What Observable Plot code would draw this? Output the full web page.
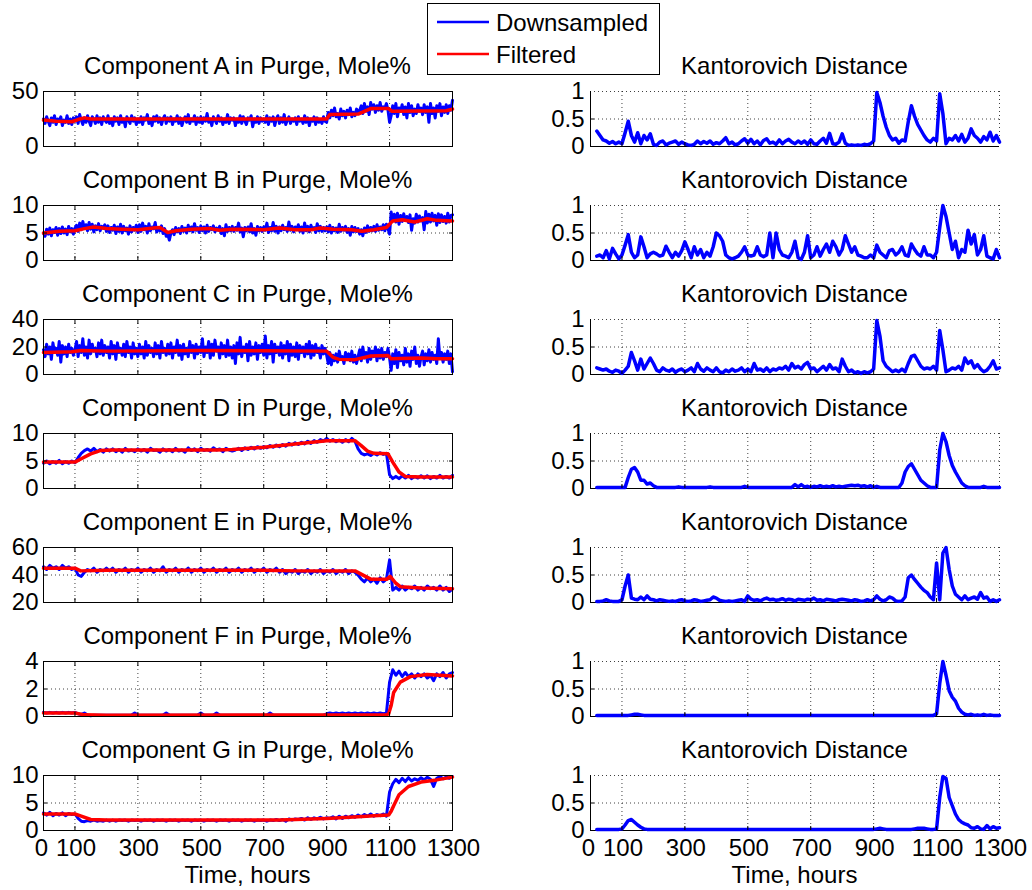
<!DOCTYPE html>
<html>
<head>
<meta charset="utf-8">
<script src="https://cdn.jsdelivr.net/npm/d3@7"></script>
<script src="https://cdn.jsdelivr.net/npm/@observablehq/plot@0.6"></script>
<style>
  html, body { margin: 0; padding: 0; background: #fff; }
  #wrap { position: relative; width: 1032px; height: 890px; overflow: hidden; background: #fff;
          font-family: "Liberation Sans", Arial, Helvetica, sans-serif; }
  .ttl { position: absolute; font-size: 24px; line-height: 18px; white-space: nowrap; color: #000;
         transform: translateX(-50%); }
</style>
</head>
<body>
<div id="wrap"></div>
<script>
// ---------------- DATA ----------------
const componentNames = ["A", "B", "C", "D", "E", "F", "G"];
const seriesNames = ["Downsampled", "Filtered"];
const compDomains = [[0, 50], [0, 10], [0, 40], [0, 10], [20, 60], [0, 4], [0, 10]];
const compTicks = [[0, 50], [0, 5, 10], [0, 20, 40], [0, 5, 10], [20, 40, 60], [0, 2, 4], [0, 5, 10]];
const kDomain = [0, 1];
const kTicks = [0, 0.5, 1];
const xTickLabels = [0, 100, 300, 500, 700, 900, 1100, 1300];
const xGridHours = [100, 300, 500, 700, 900, 1100];
const kGridHours = [100, 300, 500, 700, 900, 1100, 1300];

// 5-hour sampling (components A, B, C)
const hours5 = [0,
 5,10,15,20,25,30,35,40,45,50,55,60,65,70,75,80,85,90,95,100,
 105,110,115,120,125,130,135,140,145,150,155,160,165,170,175,180,185,190,195,200,
 205,210,215,220,225,230,235,240,245,250,255,260,265,270,275,280,285,290,295,300,
 305,310,315,320,325,330,335,340,345,350,355,360,365,370,375,380,385,390,395,400,
 405,410,415,420,425,430,435,440,445,450,455,460,465,470,475,480,485,490,495,500,
 505,510,515,520,525,530,535,540,545,550,555,560,565,570,575,580,585,590,595,600,
 605,610,615,620,625,630,635,640,645,650,655,660,665,670,675,680,685,690,695,700,
 705,710,715,720,725,730,735,740,745,750,755,760,765,770,775,780,785,790,795,800,
 805,810,815,820,825,830,835,840,845,850,855,860,865,870,875,880,885,890,895,900,
 905,910,915,920,925,930,935,940,945,950,955,960,965,970,975,980,985,990,995,1000,
 1005,1010,1015,1020,1025,1030,1035,1040,1045,1050,1055,1060,1065,1070,1075,1080,1085,1090,1095,1100,
 1105,1110,1115,1120,1125,1130,1135,1140,1145,1150,1155,1160,1165,1170,1175,1180,1185,1190,1195,1200,
 1205,1210,1215,1220,1225,1230,1235,1240,1245,1250,1255,1260,1265,1270,1275,1280,1285,1290,1295,1300];

// 10-hour sampling (components D, E, F, G)
const hours = [0,10,20,30,40,50,60,70,80,90,100,
 110,120,130,140,150,160,170,180,190,200,
 210,220,230,240,250,260,270,280,290,300,
 310,320,330,340,350,360,370,380,390,400,
 410,420,430,440,450,460,470,480,490,500,
 510,520,530,540,550,560,570,580,590,600,
 610,620,630,640,650,660,670,680,690,700,
 710,720,730,740,750,760,770,780,790,800,
 810,820,830,840,850,860,870,880,890,900,
 910,920,930,940,950,960,970,980,990,1000,
 1010,1020,1030,1040,1050,1060,1070,1080,1090,1100,
 1110,1120,1130,1140,1150,1160,1170,1180,1190,1200,
 1210,1220,1230,1240,1250,1260,1270,1280,1290,1300];

const kHours = [20,30,40,50,60,70,80,90,100,
 110,120,130,140,150,160,170,180,190,200,
 210,220,230,240,250,260,270,280,290,300,
 310,320,330,340,350,360,370,380,390,400,
 410,420,430,440,450,460,470,480,490,500,
 510,520,530,540,550,560,570,580,590,600,
 610,620,630,640,650,660,670,680,690,700,
 710,720,730,740,750,760,770,780,790,800,
 810,820,830,840,850,860,870,880,890,900,
 910,920,930,940,950,960,970,980,990,1000,
 1010,1020,1030,1040,1050,1060,1070,1080,1090,1100,
 1110,1120,1130,1140,1150,1160,1170,1180,1190,1200,
 1210,1220,1230,1240,1250,1260,1270,1280,1290,1300];

// Downsampled (blue) series
const downA = [25,
 21,27,23,19,26,22,28,20,25,23,27,19,24,22,28,21,25,20,26,23,
 27,21,29,24,20,26,22,28,23,19,27,25,21,28,22,26,20,27,24,22,
 28,21,25,19,27,23,26,20,28,22,25,18,27,24,21,28,23,26,20,25,
 22,27,20,26,24,29,21,25,19,27,23,28,22,26,20,25,28,21,26,23,
 27,20,25,23,28,21,26,19,24,27,22,29,21,25,23,28,20,26,22,27,
 21,26,23,30,22,25,19,27,24,21,28,23,26,20,25,22,29,21,26,24,
 26,19,25,22,28,21,27,23,20,26,24,28,18,25,22,27,21,26,23,25,
 22,28,20,26,23,27,19,25,28,21,26,22,29,20,24,27,21,25,23,26,
 20,27,23,25,21,28,22,26,19,25,23,27,20,26,22,24,21,27,23,22,
 31,26,33,28,35,27,30,25,34,28,32,26,33,29,35,27,31,28,34,30,
 33,37,30,39,32,36,29,40,34,38,31,37,33,40,32,36,35,39,33,22,
 28,37,30,39,27,35,32,38,29,36,26,39,31,37,28,34,30,38,32,35,
 29,38,31,36,22,39,30,35,26,37,32,39,28,36,31,38,30,37,33,42];
const downB = [5.0,
 4.4,5.7,4.8,5.9,4.5,5.6,5.1,6.0,4.6,5.8,4.9,6.1,5.0,5.7,4.7,6.2,5.2,5.8,4.8,5.9,
 6.4,5.3,6.8,5.6,7.1,5.8,6.5,5.4,6.9,5.7,6.6,5.2,6.3,5.6,6.7,5.4,6.2,5.9,6.5,5.3,
 6.3,5.1,6.0,5.5,6.4,4.9,6.1,5.3,6.6,5.0,6.2,5.4,5.9,4.8,6.3,5.2,6.0,5.5,6.4,5.1,
 6.5,5.3,6.8,5.6,6.2,5.0,6.7,5.4,6.1,5.8,6.9,5.2,6.0,5.4,6.3,4.9,5.8,4.4,4.8,3.7,
 5.0,5.6,4.7,6.0,5.2,5.8,4.9,6.2,5.3,5.9,5.0,6.4,5.4,6.1,5.2,6.7,5.5,6.0,5.1,6.3,
 5.4,6.1,5.0,6.4,5.3,6.0,5.6,6.3,5.2,5.9,5.5,6.2,4.9,5.8,4.5,6.5,5.3,6.0,5.4,6.2,
 5.3,6.0,5.5,6.8,5.2,5.9,4.3,6.0,5.4,6.1,5.2,6.7,5.0,5.8,4.6,6.2,5.4,6.0,5.3,6.1,
 5.5,6.8,5.1,6.0,5.4,6.9,5.3,6.2,5.0,6.1,5.4,6.4,5.6,6.0,5.3,7.0,5.5,6.2,5.2,6.1,
 5.6,6.5,5.3,6.1,5.0,6.8,5.4,6.2,5.2,6.4,5.6,6.0,5.1,6.7,5.4,6.2,5.3,6.0,5.4,6.1,
 5.2,6.4,5.0,6.0,5.4,5.9,5.1,6.6,5.3,6.0,5.5,6.2,5.1,5.8,4.6,6.2,5.2,6.0,5.3,5.8,
 4.8,5.6,4.5,5.9,5.1,6.3,5.3,6.0,5.4,6.2,5.3,6.5,5.5,6.1,5.6,6.5,5.4,6.6,5.8,4.8,
 8.8,7.2,8.4,7.0,8.6,6.6,8.2,7.1,8.5,7.3,8.0,6.9,8.3,5.5,7.6,6.8,8.4,7.0,8.1,7.2,
 7.8,5.6,8.9,6.8,8.4,7.0,8.6,7.2,8.2,6.4,8.5,6.9,8.3,7.1,8.0,6.8,8.6,7.0,8.2,8.3];
const downC = [18,
 13,22,15,20,11,23,16,19,14,24,9,21,15,20,13,22,16,19,14,18,
 24,13,21,16,26,14,20,12,25,15,22,17,19,13,23,15,25,14,21,16,
 20,12,24,15,21,11,23,16,19,14,22,13,24,16,20,12,23,15,19,13,
 22,15,20,12,24,14,21,16,19,13,23,15,21,12,24,16,19,14,22,15,
 23,12,20,16,25,14,21,11,22,15,19,13,24,16,21,12,22,15,20,16,
 26,13,20,16,24,12,22,14,25,17,20,12,23,15,21,13,25,14,20,12,
 21,8,23,15,27,13,20,16,22,10,24,14,20,15,23,11,21,16,22,14,
 28,12,21,15,24,9,22,16,20,14,23,12,21,15,24,10,22,14,20,13,
 23,11,21,16,20,13,22,15,24,12,21,14,22,16,19,12,21,15,19,14,
 8,16,7,14,10,15,9,17,11,13,8,16,12,15,10,17,9,14,8,13,
 18,10,20,12,16,9,19,11,17,13,20,10,18,12,19,11,16,13,19,12,
 3,15,8,18,5,16,10,14,7,19,9,15,6,17,11,20,8,14,6,13,
 17,7,15,10,18,9,16,11,14,8,26,12,16,9,15,11,17,8,15,2];
const downD = [4.6,5.0,4.5,4.9,4.6,5.1,4.5,4.9,4.6,5.0,4.7,
 5.6,6.4,6.9,7.2,6.8,7.3,6.7,7.1,6.6,7.2,
 6.8,7.2,6.7,7.1,6.6,7.3,6.8,7.0,6.7,7.2,
 6.8,7.1,6.6,7.3,6.9,7.0,6.6,7.2,6.8,7.1,
 6.7,7.3,6.8,7.0,6.6,7.4,6.9,7.2,6.7,7.3,
 6.9,7.1,6.8,7.4,7.0,7.2,6.7,7.3,7.0,6.8,
 7.0,7.3,6.9,7.4,7.1,7.5,7.2,7.6,7.3,7.6,
 7.4,7.8,7.5,7.9,7.6,8.0,7.7,8.2,7.9,8.3,
 8.0,8.4,8.1,8.6,8.2,8.7,8.4,8.9,8.6,9.1,
 8.6,8.9,8.5,8.8,8.4,8.9,8.5,9.1,8.6,7.2,
 6.4,6.1,6.3,6.0,6.4,6.1,6.5,6.2,6.4,2.5,
 1.8,2.2,1.8,2.3,1.9,2.4,1.8,2.2,1.9,2.3,
 1.9,2.3,1.8,2.2,1.9,2.4,1.9,2.2,1.9,2.4];
const downE = [46,44,47,45,46,44,47,45,46,44,45,
 40,39,42,44,43,45,42,44,43,45,
 43,45,42,44,43,45,42,44,43,45,
 42,44,43,45,42,44,43,46,42,44,
 43,45,42,44,43,45,42,44,43,45,
 42,44,43,45,42,44,43,45,42,44,
 43,45,42,44,43,45,42,44,43,45,
 42,44,43,45,42,44,41,43,42,44,
 41,43,42,44,41,43,42,44,41,43,
 42,44,41,43,42,44,41,43,42,40,
 37,35,38,35,37,34,38,35,37,51,
 29,31,29,32,29,31,30,32,29,31,
 29,32,30,31,29,32,29,31,28,30];
const downF = [0.3,0.25,0.3,0.25,0.3,0.25,0.3,0.25,0.3,0.25,0.3,
 0.2,0.15,0.25,0.1,0.05,0.1,0.1,0.1,0.1,0.1,
 0.1,0.1,0.1,0.1,0.1,0.1,0.1,0.1,0.25,0.1,
 0.1,0.1,0.1,0.1,0.1,0.1,0.1,0.1,0.25,0.1,
 0.1,0.1,0.1,0.1,0.1,0.1,0.1,0.1,0.1,0.25,
 0.1,0.1,0.1,0.1,0.25,0.1,0.1,0.1,0.1,0.1,
 0.1,0.1,0.1,0.1,0.1,0.1,0.1,0.1,0.1,0.1,
 0.1,0.25,0.1,0.1,0.1,0.1,0.1,0.1,0.1,0.1,
 0.1,0.1,0.1,0.1,0.1,0.1,0.1,0.1,0.1,0.2,
 0.25,0.2,0.25,0.2,0.25,0.2,0.25,0.2,0.25,0.2,
 0.25,0.2,0.25,0.2,0.25,0.2,0.25,0.2,0.25,2.5,
 3.4,3.0,3.3,2.9,3.2,2.9,3.1,2.8,3.1,2.9,
 3.1,2.8,3.0,2.6,3.1,2.9,3.2,2.8,3.1,3.2];
const downG = [3.2,2.8,3.3,2.7,3.1,2.8,3.2,2.7,3.1,2.9,3.0,
 2.2,1.7,1.6,1.8,1.7,1.9,1.7,1.8,1.7,1.9,
 1.7,1.9,1.7,1.9,1.8,1.9,1.7,1.9,1.8,1.9,
 1.7,1.9,1.8,1.9,1.7,1.9,1.8,1.9,1.7,1.9,
 1.8,1.9,1.7,1.9,1.8,1.9,1.7,1.9,1.8,1.9,
 1.7,1.9,1.8,1.9,1.7,1.9,1.8,1.9,1.7,1.9,
 1.8,1.9,1.7,1.9,1.8,1.9,1.7,1.9,1.8,1.9,
 1.7,1.9,1.8,2.0,1.8,2.0,1.7,2.1,1.9,2.1,
 2.0,2.2,1.9,2.3,2.0,2.3,2.1,2.4,2.1,2.3,
 2.2,2.5,2.1,2.6,2.2,2.6,2.3,2.7,2.4,2.8,
 2.5,2.9,2.6,3.0,2.6,2.9,2.7,3.0,2.6,7.0,
 8.5,9.3,8.7,9.5,8.9,9.6,9.0,9.4,9.1,9.6,
 9.2,9.7,9.3,8.0,9.5,9.8,9.4,9.7,9.5,9.8];

// Filtered (red) series as [hour, value] pairs
const filtA = [[0,24],[40,23],[90,22.5],[110,24.5],[130,26],[150,25],[900,25],[910,29],[1000,29.5],[1040,34.5],[1097,34.5],[1108,32],[1280,32.5],[1300,34]];
const filtB = [[0,5.0],[50,5.3],[100,5.4],[130,5.8],[160,6.1],[200,5.8],[250,5.7],[300,5.6],[350,5.9],[370,6.0],[395,5.1],[420,5.4],[470,5.7],[530,5.8],[560,5.5],[600,5.7],[700,5.6],[750,5.9],[800,5.6],[850,5.6],[880,5.9],[920,5.7],[980,5.6],[1012,5.3],[1050,5.6],[1090,6.0],[1110,7.2],[1140,7.4],[1180,7.0],[1220,7.6],[1250,7.3],[1300,7.2]];
const filtC = [[0,16],[90,16.5],[120,17.5],[200,17],[500,17.5],[700,17.2],[900,17],[920,12.5],[940,11],[990,10.8],[1040,13.5],[1095,13.8],[1105,11.5],[1200,12],[1250,11.5],[1300,11.5]];
const filtD = [[0,4.8],[100,4.8],[120,5.4],[150,6.3],[180,6.9],[220,7.0],[550,7.0],[600,7.1],[700,7.5],[800,8.1],[900,8.7],[990,8.7],[1010,7.8],[1030,6.8],[1050,6.4],[1095,6.3],[1110,4.8],[1130,3.0],[1150,2.2],[1200,2.1],[1300,2.1]];
const filtE = [[0,45],[100,45],[118,43],[200,43.5],[700,43.5],[800,43],[990,43],[1040,37],[1092,37],[1102,39],[1120,34],[1134,31.5],[1200,30.5],[1300,30]];
const filtF = [[0,0.25],[100,0.25],[130,0.12],[200,0.1],[1090,0.12],[1097,0.2],[1105,0.8],[1113,1.75],[1134,2.5],[1166,2.9],[1219,3.05],[1260,3.0],[1300,2.95]];
const filtG = [[0,3.0],[100,3.0],[120,2.6],[150,2.0],[200,1.9],[750,1.9],[800,2.0],[900,2.2],[1000,2.5],[1050,2.7],[1097,2.8],[1105,3.5],[1113,4.5],[1130,6.5],[1160,8.0],[1200,8.8],[1250,9.2],[1300,9.7]];

// Kantorovich distance, one value per entry of kHours
const kA = [0.28,0.2,0.12,0.1,0.06,0.09,0.05,0.08,0.05,
 0.25,0.46,0.2,0.08,0.25,0.05,0.2,0.12,0.23,0.04,
 0.02,0.08,0.1,0.03,0.06,0.08,0.1,0.04,0.08,0.05,
 0.03,0.02,0.04,0.1,0.05,0.09,0.06,0.1,0.04,0.07,
 0.05,0.1,0.16,0.05,0.08,0.03,0.05,0.1,0.14,0.06,
 0.13,0.05,0.1,0.03,0.11,0.14,0.06,0.08,0.04,0.12,
 0.05,0.1,0.13,0.08,0.05,0.1,0.06,0.1,0.04,0.12,
 0.05,0.04,0.1,0.15,0.06,0.24,0.05,0.04,0.08,0.23,
 0.06,0.02,0.03,0.02,0.03,0.02,0.04,0.03,0.05,0.1,
 0.98,0.8,0.55,0.35,0.2,0.12,0.15,0.06,0.12,0.1,
 0.45,0.74,0.55,0.4,0.3,0.2,0.12,0.08,0.15,0.1,
 0.96,0.6,0.05,0.15,0.12,0.2,0.1,0.22,0.08,0.15,
 0.32,0.2,0.15,0.08,0.18,0.12,0.26,0.1,0.2,0.08];
const kB = [0.08,0.1,0.05,0.18,0.03,0.22,0.12,0.03,0.1,
 0.28,0.47,0.15,0.05,0.1,0.43,0.25,0.05,0.12,0.15,
 0.12,0.08,0.1,0.26,0.15,0.05,0.15,0.08,0.18,0.34,
 0.2,0.05,0.25,0.1,0.2,0.05,0.15,0.08,0.25,0.5,
 0.45,0.35,0.1,0.05,0.03,0.05,0.08,0.15,0.25,0.1,
 0.08,0.1,0.25,0.1,0.07,0.1,0.5,0.05,0.5,0.2,
 0.1,0.08,0.05,0.15,0.35,0.05,0.02,0.15,0.45,0.05,
 0.1,0.25,0.08,0.2,0.3,0.15,0.35,0.25,0.1,0.2,
 0.45,0.3,0.15,0.25,0.1,0.08,0.05,0.05,0.1,0.05,
 0.28,0.15,0.1,0.05,0.18,0.2,0.1,0.15,0.25,0.1,
 0.08,0.3,0.2,0.12,0.08,0.25,0.1,0.1,0.05,0.15,
 0.6,1.0,0.8,0.5,0.2,0.35,0.05,0.2,0.15,0.55,
 0.3,0.47,0.1,0.2,0.45,0.08,0.05,0.03,0.2,0.05];
const kC = [0.12,0.1,0.08,0.1,0.06,0.04,0.08,0.06,0.02,
 0.08,0.15,0.4,0.25,0.08,0.28,0.1,0.2,0.3,0.2,
 0.08,0.05,0.12,0.08,0.06,0.1,0.04,0.08,0.1,0.05,
 0.08,0.12,0.05,0.2,0.1,0.06,0.12,0.08,0.05,0.12,
 0.05,0.03,0.08,0.05,0.1,0.06,0.08,0.12,0.05,0.1,
 0.05,0.2,0.08,0.1,0.06,0.12,0.05,0.1,0.08,0.12,
 0.1,0.15,0.08,0.2,0.12,0.15,0.1,0.18,0.22,0.1,
 0.12,0.05,0.1,0.15,0.08,0.18,0.1,0.12,0.05,0.28,
 0.15,0.05,0.08,0.03,0.05,0.02,0.05,0.03,0.05,0.1,
 0.98,0.7,0.25,0.15,0.1,0.05,0.08,0.05,0.1,0.05,
 0.2,0.33,0.35,0.25,0.15,0.1,0.12,0.1,0.15,0.08,
 0.8,0.45,0.05,0.08,0.12,0.1,0.15,0.08,0.3,0.2,
 0.25,0.12,0.18,0.1,0.05,0.08,0.15,0.25,0.1,0.12];
const kD = [0.02,0.02,0.02,0.02,0.02,0.02,0.02,0.02,0.02,
 0.02,0.2,0.35,0.38,0.3,0.15,0.15,0.08,0.1,0.05,
 0.02,0.02,0.02,0.02,0.02,0.02,0.02,0.03,0.02,0.02,
 0.02,0.02,0.02,0.02,0.02,0.02,0.02,0.03,0.02,0.02,
 0.02,0.02,0.02,0.02,0.02,0.02,0.02,0.02,0.04,0.02,
 0.02,0.02,0.02,0.02,0.02,0.02,0.02,0.02,0.02,0.02,
 0.02,0.02,0.02,0.02,0.07,0.03,0.07,0.03,0.04,0.02,
 0.04,0.03,0.05,0.03,0.04,0.03,0.05,0.03,0.04,0.03,
 0.04,0.05,0.06,0.05,0.06,0.04,0.05,0.03,0.05,0.02,
 0.04,0.02,0.02,0.02,0.02,0.02,0.02,0.02,0.1,0.3,
 0.4,0.45,0.35,0.25,0.15,0.1,0.05,0.02,0.02,0.02,
 0.7,1.0,0.85,0.6,0.42,0.3,0.2,0.1,0.05,0.02,
 0.02,0.02,0.02,0.02,0.04,0.02,0.02,0.02,0.02,0.02];
const kE = [0.02,0.02,0.03,0.05,0.03,0.02,0.02,0.02,0.05,
 0.3,0.5,0.08,0.06,0.05,0.1,0.05,0.12,0.06,0.05,
 0.03,0.05,0.04,0.03,0.02,0.03,0.02,0.04,0.05,0.03,
 0.02,0.03,0.05,0.04,0.02,0.03,0.04,0.05,0.1,0.08,
 0.04,0.03,0.02,0.03,0.02,0.03,0.04,0.05,0.02,0.12,
 0.06,0.04,0.05,0.03,0.06,0.08,0.05,0.06,0.04,0.05,
 0.07,0.04,0.06,0.05,0.03,0.06,0.05,0.04,0.06,0.05,
 0.08,0.04,0.05,0.03,0.06,0.05,0.04,0.03,0.05,0.06,
 0.05,0.04,0.03,0.05,0.04,0.02,0.03,0.05,0.03,0.05,
 0.12,0.06,0.03,0.05,0.1,0.08,0.03,0.02,0.03,0.1,
 0.45,0.5,0.42,0.35,0.28,0.22,0.18,0.1,0.05,0.72,
 0.05,0.9,1.0,0.6,0.3,0.15,0.1,0.05,0.12,0.05,
 0.08,0.1,0.06,0.18,0.08,0.1,0.02,0.05,0.02,0.05];
const kF = [0.02,0.02,0.02,0.02,0.02,0.02,0.02,0.02,0.02,
 0.02,0.02,0.03,0.04,0.04,0.03,0.02,0.02,0.02,0.02,
 0.02,0.02,0.02,0.02,0.02,0.02,0.02,0.02,0.02,0.02,
 0.02,0.02,0.02,0.02,0.02,0.02,0.02,0.02,0.02,0.02,
 0.02,0.02,0.02,0.02,0.02,0.02,0.02,0.02,0.02,0.02,
 0.02,0.02,0.02,0.02,0.02,0.02,0.02,0.02,0.02,0.02,
 0.02,0.02,0.02,0.02,0.02,0.02,0.02,0.02,0.02,0.02,
 0.02,0.02,0.02,0.02,0.02,0.02,0.02,0.02,0.02,0.02,
 0.02,0.02,0.02,0.02,0.02,0.02,0.02,0.02,0.02,0.02,
 0.02,0.02,0.02,0.02,0.02,0.02,0.02,0.02,0.02,0.02,
 0.02,0.02,0.02,0.02,0.02,0.02,0.02,0.02,0.02,0.05,
 0.6,1.0,0.75,0.47,0.35,0.28,0.15,0.08,0.04,0.03,
 0.04,0.02,0.03,0.02,0.04,0.02,0.03,0.02,0.02,0.02];
const kG = [0.02,0.02,0.02,0.02,0.02,0.02,0.02,0.02,0.03,
 0.1,0.18,0.2,0.15,0.1,0.06,0.03,0.02,0.02,0.02,
 0.02,0.02,0.02,0.02,0.02,0.02,0.02,0.02,0.02,0.02,
 0.02,0.02,0.02,0.02,0.02,0.02,0.02,0.02,0.02,0.02,
 0.02,0.02,0.02,0.02,0.02,0.02,0.02,0.02,0.02,0.02,
 0.02,0.02,0.02,0.02,0.02,0.02,0.02,0.02,0.02,0.02,
 0.02,0.02,0.02,0.02,0.02,0.02,0.02,0.02,0.02,0.02,
 0.02,0.02,0.02,0.02,0.02,0.02,0.02,0.02,0.02,0.02,
 0.02,0.02,0.02,0.02,0.02,0.02,0.02,0.02,0.02,0.02,
 0.03,0.04,0.03,0.02,0.02,0.02,0.02,0.02,0.02,0.02,
 0.02,0.02,0.03,0.04,0.04,0.04,0.03,0.02,0.02,0.03,
 0.6,0.98,0.95,0.6,0.45,0.3,0.2,0.15,0.12,0.1,
 0.05,0.04,0.07,0.03,0.02,0.09,0.03,0.07,0.04,0.05];

const downs = [downA, downB, downC, downD, downE, downF, downG];
const downHours = [hours5, hours5, hours5, hours, hours, hours, hours];
const filts = [filtA, filtB, filtC, filtD, filtE, filtF, filtG];
const kDists = [kA, kB, kC, kD, kE, kF, kG];

// sanity check of lengths
downs.forEach((a, i) => { if (a.length !== downHours[i].length) throw new Error("down" + componentNames[i] + " length " + a.length); });
kDists.forEach((a, i) => { if (a.length !== kHours.length) throw new Error("k" + componentNames[i] + " length " + a.length); });

// ---------------- LAYOUT / STYLE ----------------
const wrap = document.getElementById("wrap");
const FONT = '"Liberation Sans", Arial, Helvetica, sans-serif';
const BLUE = "#0000ff", RED = "#ff0000";
const LEFT_X = 43, RIGHT_X = 590, FW = 409, FH = 55, TOP0 = 91, PITCH = 114;
const dotted = {stroke: "#000", strokeOpacity: 0.75, strokeWidth: 1, strokeDasharray: "1,3"};
const fmt = d => String(d);
const blank = () => "";

function place(el, left, top) {
  el.style.position = "absolute";
  el.style.left = left + "px";
  el.style.top = top + "px";
  wrap.appendChild(el);
}
function addText(txt, cx, baseline) {
  const d = document.createElement("div");
  d.className = "ttl";
  d.textContent = txt;
  d.style.left = cx + "px";
  d.style.top = (baseline - 18.3) + "px";
  wrap.appendChild(d);
}
function bottomLabels() {
  return [
    Plot.axisX([0], {anchor: "bottom", tickSize: 0, tickPadding: 8, tickFormat: fmt, label: null, dx: -2}),
    Plot.axisX(xTickLabels.slice(1), {anchor: "bottom", tickSize: 0, tickPadding: 8, tickFormat: fmt, label: null, dx: 1})
  ];
}

function compPlot(i) {
  const last = i === 6;
  const mT = 14, mB = last ? 40 : 8, mL = LEFT_X, mR = 32;
  const ticks = compTicks[i];
  const inner = ticks.slice(1, -1);
  const svg = Plot.plot({
    width: mL + FW + mR, height: mT + FH + mB,
    marginTop: mT, marginBottom: mB, marginLeft: mL, marginRight: mR,
    style: {fontSize: "24px", fontFamily: FONT, background: "transparent", color: "#000", overflow: "visible"},
    x: {domain: [0, 1300]},
    y: {domain: compDomains[i]},
    marks: [
      Plot.gridX(xGridHours, dotted),
      Plot.gridY(inner, dotted),
      Plot.line(downs[i], {x: downHours[i], y: d => d, stroke: BLUE, strokeWidth: 3, strokeLinejoin: "round"}),
      Plot.line(filts[i], {x: d => d[0], y: d => d[1], stroke: RED, strokeWidth: 3.5, strokeLinejoin: "round"}),
      Plot.frame({stroke: "#000", strokeWidth: 1}),
      Plot.axisX(xGridHours, {anchor: "bottom", tickSize: -4, tickFormat: blank, label: null}),
      Plot.axisX(xGridHours, {anchor: "top", tickSize: -4, tickFormat: blank, label: null}),
      Plot.axisY(inner, {anchor: "right", tickSize: -4, tickFormat: blank, label: null}),
      Plot.axisY(ticks, {anchor: "left", tickSize: 0, tickPadding: 5, tickFormat: fmt, label: null}),
      Plot.axisY(inner, {anchor: "left", tickSize: -4, tickFormat: blank, label: null}),
      ...(last ? bottomLabels() : [])
    ]
  });
  place(svg, 0, TOP0 + i * PITCH - mT);
}

function kPlot(i) {
  const last = i === 6;
  const mT = 14, mB = last ? 40 : 8, mL = 60, mR = 32;
  const svg = Plot.plot({
    width: mL + FW + mR, height: mT + FH + mB,
    marginTop: mT, marginBottom: mB, marginLeft: mL, marginRight: mR,
    style: {fontSize: "24px", fontFamily: FONT, background: "transparent", color: "#000", overflow: "visible"},
    x: {domain: [0, 1300]},
    y: {domain: kDomain},
    marks: [
      Plot.gridX(kGridHours, dotted),
      Plot.gridY([0.5, 1], dotted),
      Plot.ruleX([0], {stroke: "#000", strokeWidth: 1}),
      Plot.ruleY([0], {stroke: "#000", strokeWidth: 1}),
      Plot.line(kDists[i], {x: kHours, y: d => d, stroke: BLUE, strokeWidth: 3.5, strokeLinejoin: "round"}),
      Plot.axisX(xGridHours, {anchor: "bottom", tickSize: -4, tickFormat: blank, label: null}),
      Plot.axisY(kTicks, {anchor: "left", tickSize: 0, tickPadding: 6, tickFormat: fmt, label: null}),
      Plot.axisY([0.5], {anchor: "left", tickSize: -4, tickFormat: blank, label: null}),
      ...(last ? bottomLabels() : [])
    ]
  });
  place(svg, RIGHT_X - mL, TOP0 + i * PITCH - mT);
}

for (let i = 0; i < 7; i++) {
  compPlot(i);
  kPlot(i);
}

const leftCx = LEFT_X + FW / 2, rightCx = RIGHT_X + FW / 2;
for (let i = 0; i < 7; i++) {
  const base = TOP0 + i * PITCH - 16;
  addText("Component " + componentNames[i] + " in Purge, Mole%", leftCx, base);
  addText("Kantorovich Distance", rightCx, base);
}
addText("Time, hours", leftCx, 884);
addText("Time, hours", rightCx, 884);

// legend
const leg = d3.create("svg").attr("width", 234).attr("height", 73)
  .style("font-family", FONT).style("font-size", "24px");
leg.append("rect").attr("x", 0.5).attr("y", 0.5).attr("width", 232).attr("height", 71)
  .attr("fill", "#fff").attr("stroke", "#000").attr("stroke-width", 1);
const legColors = [BLUE, RED];
seriesNames.forEach((name, k) => {
  const cy = 19 + k * 32;
  leg.append("line").attr("x1", 10).attr("x2", 62).attr("y1", cy).attr("y2", cy)
    .attr("stroke", legColors[k]).attr("stroke-width", 2.5);
  leg.append("text").attr("x", 69).attr("y", cy + 8.5).attr("fill", "#000").text(name);
});
place(leg.node(), 427, 3);
</script>
</body>
</html>
